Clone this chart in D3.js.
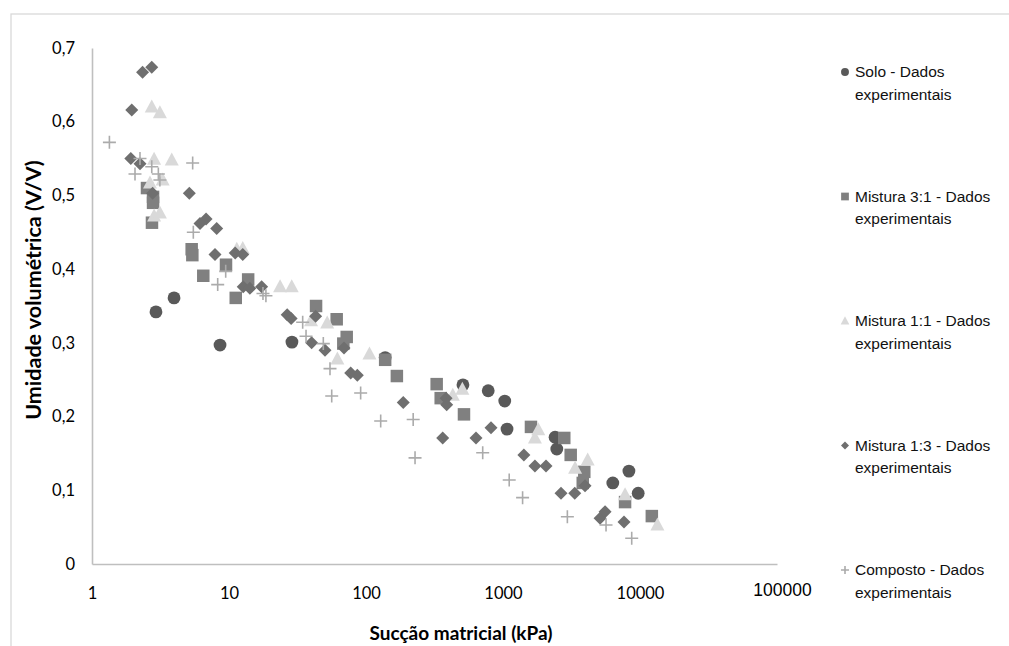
<!DOCTYPE html>
<html><head><meta charset="utf-8">
<script src="https://cdn.jsdelivr.net/npm/d3@7"></script>
<style>body{margin:0;background:#fff}svg{display:block}</style>
</head><body>
<svg id="c" width="1009" height="646"></svg>
<script>
// ---- data (x: kPa, y: V/V) ----
const soloX = [2.93,3.97,8.6,28.8,138,510,780,1030,1070,2400,2470,6330,8300,9700];
const soloY = [0.342,0.361,0.297,0.301,0.280,0.243,0.235,0.221,0.183,0.172,0.156,0.110,0.126,0.096];

const m31X = [2.52,2.79,2.79,2.74,5.34,5.40,6.49,9.51,11.2,13.8,43.2,61.1,72.3,68.3,138,168,328,351,519,1600,2800,3120,3920,3820,7780,12200];
const m31Y = [0.510,0.498,0.490,0.463,0.427,0.419,0.391,0.406,0.361,0.386,0.350,0.332,0.308,0.299,0.277,0.255,0.244,0.225,0.203,0.186,0.171,0.148,0.125,0.110,0.084,0.065];

const m11X = [2.73,3.13,2.84,3.82,3.28,2.65,2.84,3.13,11.4,12.6,23.6,28.7,39.7,52.1,61.8,106,430,505,1710,1810,3360,4150,7780,13400];
const m11Y = [0.620,0.612,0.549,0.548,0.521,0.517,0.472,0.476,0.427,0.428,0.376,0.376,0.330,0.327,0.278,0.285,0.229,0.237,0.171,0.182,0.130,0.141,0.094,0.053];

const m13X = [2.34,2.73,1.95,1.92,2.24,2.77,5.13,6.14,6.80,8.13,7.90,11.1,12.6,12.7,14.2,17.3,26.6,28.4,42.9,40.1,50.2,69.1,77.3,86.4,187,363,384,388,635,817,1420,1710,2060,2650,3340,3970,5110,5560,7640];
const m13Y = [0.667,0.674,0.616,0.550,0.543,0.503,0.503,0.462,0.468,0.455,0.420,0.422,0.420,0.376,0.374,0.376,0.338,0.333,0.336,0.300,0.290,0.293,0.259,0.256,0.219,0.171,0.225,0.216,0.171,0.185,0.148,0.133,0.133,0.096,0.096,0.106,0.062,0.071,0.057];

const compX = [1.34,2.24,2.06,2.73,3.05,3.13,5.43,5.49,9.46,8.27,17.7,18.6,34.5,36.5,48.8,54.6,56.2,91.4,128,221,228,711,1110,1390,2950,5650,8700];
const compY = [0.572,0.550,0.529,0.539,0.529,0.521,0.544,0.450,0.397,0.379,0.367,0.364,0.328,0.309,0.299,0.265,0.228,0.232,0.194,0.196,0.144,0.151,0.114,0.090,0.064,0.053,0.035];

const xTicks = [1,10,100,1000,10000,100000];
const yTicks = [0,0.1,0.2,0.3,0.4,0.5,0.6,0.7];
const seriesNames = ["Solo - Dados|experimentais","Mistura 3:1 - Dados|experimentais","Mistura 1:1 - Dados|experimentais","Mistura 1:3 - Dados|experimentais","Composto - Dados|experimentais"];

// ---- layout ----
const svg = d3.select("#c");
const L = 92, R = 777, T = 48, B = 564;
const x = d3.scaleLog().domain([1,100000]).range([L,R]);
const y = d3.scaleLinear().domain([0,0.7]).range([B,T]);

svg.append("rect").attr("x",11).attr("y",14).attr("width",1200).attr("height",800)
  .attr("fill","none").attr("stroke","#d9d9d9").attr("stroke-width",1.3);

const FONT = "Lato, 'Open Sans', sans-serif";

// axes
const gx = svg.append("g").attr("transform",`translate(0,${B})`)
  .call(d3.axisBottom(x).tickValues(xTicks).tickSize(0).tickPadding(22).tickFormat(d3.format("d")));
const gy = svg.append("g").attr("transform",`translate(${L},0)`)
  .call(d3.axisLeft(y).tickValues(yTicks).tickSize(0).tickPadding(17).tickFormat(d => d3.format(".1f")(d).replace(".",",").replace(/^0,0$/,"0")));
[gx,gy].forEach(g=>{
  g.select(".domain").attr("stroke","#bfbfbf").attr("stroke-width",1.6);
  g.selectAll("text").attr("font-family",FONT).attr("font-size",16.5).attr("fill","#000");
});
gx.selectAll(".tick text").attr("dy","0.35em").attr("y",29);
gy.selectAll(".tick text").attr("x",-17);
// last x label (different look in the reference)
gx.selectAll(".tick").filter(d=>d===100000).select("text")
  .attr("font-family","'Liberation Sans', Arial, sans-serif").attr("font-size",17.5)
  .attr("x",5).attr("y",26);

// titles
svg.append("text").attr("x",461).attr("y",633).attr("dy","0.35em").attr("text-anchor","middle")
  .attr("font-family",FONT).attr("font-weight","bold").attr("font-size",19).text("Sucção matricial (kPa)");
svg.append("text").attr("transform","translate(33,290) rotate(-90)").attr("dy","0.35em").attr("text-anchor","middle")
  .attr("font-family",FONT).attr("font-weight","bold").attr("font-size",21.5).text("Umidade volumétrica (V/V)");

// markers
const zip = (xs,ys)=>xs.map((v,i)=>({x:v,y:ys[i]}));
const g = svg.append("g");
const shapes = [
  {data:zip(soloX,soloY), type:"circle", color:"#595959"},
  {data:zip(m31X,m31Y), type:"square", color:"#808080"},
  {data:zip(m11X,m11Y), type:"triangle", color:"#d9d9d9"},
  {data:zip(m13X,m13Y), type:"diamond", color:"#6f6f6f"},
  {data:zip(compX,compY), type:"plus", color:"#ababab"}
];
function draw(sel, type, color, s){
  if(type==="circle") sel.append("path").attr("d",d3.symbol(d3.symbolCircle, Math.PI*(6.4*s)**2)()).attr("fill",color);
  if(type==="square") sel.append("path").attr("d",d3.symbol(d3.symbolSquare,(12.5*s)**2)()).attr("fill",color);
  if(type==="triangle") sel.append("path").attr("d",`M0,${-7.5*s}L${7*s},${5.5*s}L${-7*s},${5.5*s}Z`).attr("fill",color);
  if(type==="diamond") sel.append("path").attr("d",`M0,${-6.5*s}L${6.5*s},0L0,${6.5*s}L${-6.5*s},0Z`).attr("fill",color);
  if(type==="plus") sel.append("path").attr("d",`M${-6.5*s},0H${6.5*s}M0,${-6.5*s}V${6.5*s}`).attr("stroke",color).attr("stroke-width",1.6).attr("fill","none");
}
shapes.forEach(sh=>{
  g.append("g").selectAll("g").data(sh.data).join("g")
    .attr("transform",d=>`translate(${x(d.x)},${y(d.y)})`)
    .each(function(){ draw(d3.select(this), sh.type, sh.color, 1); });
});

// legend
const lg = svg.append("g");
seriesNames.forEach((name,i)=>{
  const yy = 72 + i*124.5;
  const m = lg.append("g").attr("transform",`translate(845,${yy})`);
  draw(m, shapes[i].type, shapes[i].color, 0.62);
  const parts = name.split("|");
  parts.forEach((p,j)=>{
    lg.append("text").attr("x",855).attr("y",yy+j*22.5).attr("dy","0.35em")
      .attr("font-family","'Liberation Sans', Arial, sans-serif").attr("font-size",15.5).attr("fill","#111").text(p);
  });
});
</script>
</body></html>
